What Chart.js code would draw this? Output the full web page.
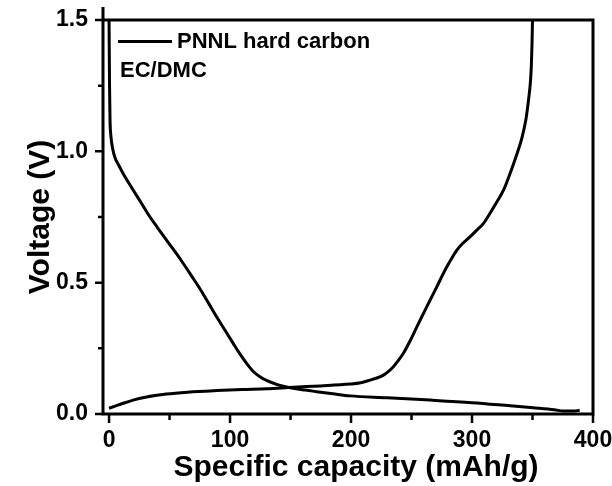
<!DOCTYPE html>
<html><head><meta charset="utf-8">
<script src="https://cdn.jsdelivr.net/npm/chart.js@4.4.1/dist/chart.umd.min.js"></script>
<style>html,body{margin:0;padding:0;background:#fff;}canvas{display:block}</style>
</head><body>
<canvas id="c" width="612" height="486"></canvas>
<script>
// ---- data ----
const dischargeCapacity = [0, 0.4, 0.8, 1.5, 3, 5, 8, 11.6, 19.9, 26, 33.7, 40, 47.5, 55, 61.2, 68, 75, 82, 88.9, 96, 102.6, 108, 113.7, 119, 124.7, 131, 138.5, 145, 152.3, 162, 171.6, 185, 199.2, 230, 265.4, 300, 331.6, 355, 368, 376, 384, 389];
const dischargeVoltage  = [1.50, 1.25, 1.12, 1.06, 1.01, 0.975, 0.947, 0.916, 0.853, 0.808, 0.751, 0.71, 0.662, 0.615, 0.574, 0.527, 0.478, 0.424, 0.370, 0.318, 0.269, 0.23, 0.193, 0.163, 0.142, 0.126, 0.113, 0.105, 0.098, 0.091, 0.085, 0.077, 0.069, 0.062, 0.053, 0.043, 0.031, 0.022, 0.016, 0.011, 0.011, 0.014];
const chargeCapacity = [0, 5, 10, 19.9, 30, 47.5, 65, 88.9, 110, 130.2, 152.3, 175, 199.2, 208, 215.8, 222, 226.8, 231, 235, 239, 243.3, 249, 254.4, 260, 265.4, 271, 276.4, 282, 287.5, 292, 298.5, 304, 309.5, 315, 320.6, 326, 331, 336, 341.2, 344.5, 346.7, 348.2, 349, 349.6, 350];
const chargeVoltage  = [0.022, 0.030, 0.038, 0.053, 0.064, 0.076, 0.083, 0.089, 0.093, 0.096, 0.102, 0.107, 0.114, 0.119, 0.129, 0.138, 0.148, 0.162, 0.180, 0.203, 0.231, 0.28, 0.332, 0.384, 0.434, 0.485, 0.536, 0.583, 0.624, 0.648, 0.675, 0.70, 0.726, 0.765, 0.808, 0.852, 0.91, 0.975, 1.05, 1.12, 1.195, 1.26, 1.322, 1.41, 1.50];
const xTickValues = [0, 100, 200, 300, 400];
const xMinorTicks = [50, 150, 250, 350];
const yTickValues = [0.0, 0.5, 1.0, 1.5];
const yMinorTicks = [0.25, 0.75, 1.25];
const seriesLabel = 'PNNL hard carbon';
const noteText = 'EC/DMC';
const xTitle = 'Specific capacity (mAh/g)';
const yTitle = 'Voltage (V)';

const FONT = '"Liberation Sans", Arial, sans-serif';
const toPts = (xs, ys) => xs.map((x, i) => ({x: x, y: ys[i]}));
const noPad = s => { s.paddingTop = 0; s.paddingBottom = 0; s.paddingLeft = 0; s.paddingRight = 0; };

const framePlugin = {
  id: 'frame',
  afterDraw(chart) {
    const ctx = chart.ctx;
    const a = chart.chartArea;
    const xs = chart.scales.x, ys = chart.scales.y;
    ctx.save();
    ctx.strokeStyle = '#000';
    ctx.lineWidth = 3;
    ctx.lineCap = 'butt';
    ctx.beginPath();
    ctx.moveTo(a.left, a.top - 13);
    ctx.lineTo(a.left, a.bottom);
    ctx.lineTo(a.right, a.bottom);
    ctx.lineTo(a.right, a.top);
    ctx.lineTo(a.left, a.top);
    ctx.stroke();
    ctx.lineWidth = 2.5;
    ctx.beginPath();
    xTickValues.forEach(v => { const p = xs.getPixelForValue(v); ctx.moveTo(p, a.bottom); ctx.lineTo(p, a.bottom + 9); });
    xMinorTicks.forEach(v => { const p = xs.getPixelForValue(v); ctx.moveTo(p, a.bottom); ctx.lineTo(p, a.bottom + 6); });
    yTickValues.forEach(v => { const p = ys.getPixelForValue(v); ctx.moveTo(a.left, p); ctx.lineTo(a.left - 8, p); });
    yMinorTicks.forEach(v => { const p = ys.getPixelForValue(v); ctx.moveTo(a.left, p); ctx.lineTo(a.left - 5, p); });
    ctx.stroke();
    // legend
    ctx.lineWidth = 3;
    ctx.beginPath();
    ctx.moveTo(a.left + 15, a.top + 21.5);
    ctx.lineTo(a.left + 69, a.top + 21.5);
    ctx.stroke();
    ctx.fillStyle = '#000';
    ctx.font = 'bold 22px ' + FONT;
    ctx.textBaseline = 'middle';
    ctx.textAlign = 'left';
    ctx.fillText(seriesLabel, a.left + 74, a.top + 22);
    ctx.fillText(noteText, a.left + 17, a.top + 51);
    // x axis title
    ctx.font = 'bold 30px ' + FONT;
    ctx.textAlign = 'center';
    ctx.textBaseline = 'alphabetic';
    ctx.fillText(xTitle, 356, 476);
    ctx.restore();
  }
};

new Chart(document.getElementById('c'), {
  type: 'scatter',
  data: {
    datasets: [
      {label: seriesLabel, data: toPts(dischargeCapacity, dischargeVoltage), showLine: true, borderColor: '#000', borderWidth: 3, pointRadius: 0, cubicInterpolationMode: 'monotone', fill: false},
      {label: seriesLabel + ' (charge)', data: toPts(chargeCapacity, chargeVoltage), showLine: true, borderColor: '#000', borderWidth: 3, pointRadius: 0, cubicInterpolationMode: 'monotone', fill: false}
    ]
  },
  options: {
    responsive: false, animation: false, devicePixelRatio: 1,
    layout: {padding: {left: 0, top: 20, right: 19, bottom: 0}},
    plugins: {legend: {display: false}, tooltip: {enabled: false}},
    scales: {
      x: {
        type: 'linear', min: -5, max: 400,
        afterBuildTicks: s => { s.ticks = xTickValues.map(v => ({value: v})); },
        grid: {display: false, drawTicks: false}, border: {display: false},
        ticks: {color: '#000', font: {family: FONT, size: 23, weight: 'bold'}, padding: 13, maxRotation: 0, autoSkip: false},
        title: {display: false, text: xTitle},
        afterFit: s => { s.height = 72; noPad(s); }
      },
      y: {
        type: 'linear', min: 0, max: 1.5,
        afterBuildTicks: s => { s.ticks = yTickValues.map(v => ({value: v})); },
        grid: {display: false, drawTicks: false}, border: {display: false},
        ticks: {color: '#000', font: {family: FONT, size: 23, weight: 'bold'}, padding: 15, callback: v => Number(v).toFixed(1)},
        title: {display: true, text: yTitle, color: '#000', font: {family: FONT, size: 30, weight: 'bold'}, padding: {top: 23, bottom: 0}},
        afterFit: s => { s.width = 103; noPad(s); }
      }
    }
  },
  plugins: [framePlugin]
});
</script>
</body></html>
